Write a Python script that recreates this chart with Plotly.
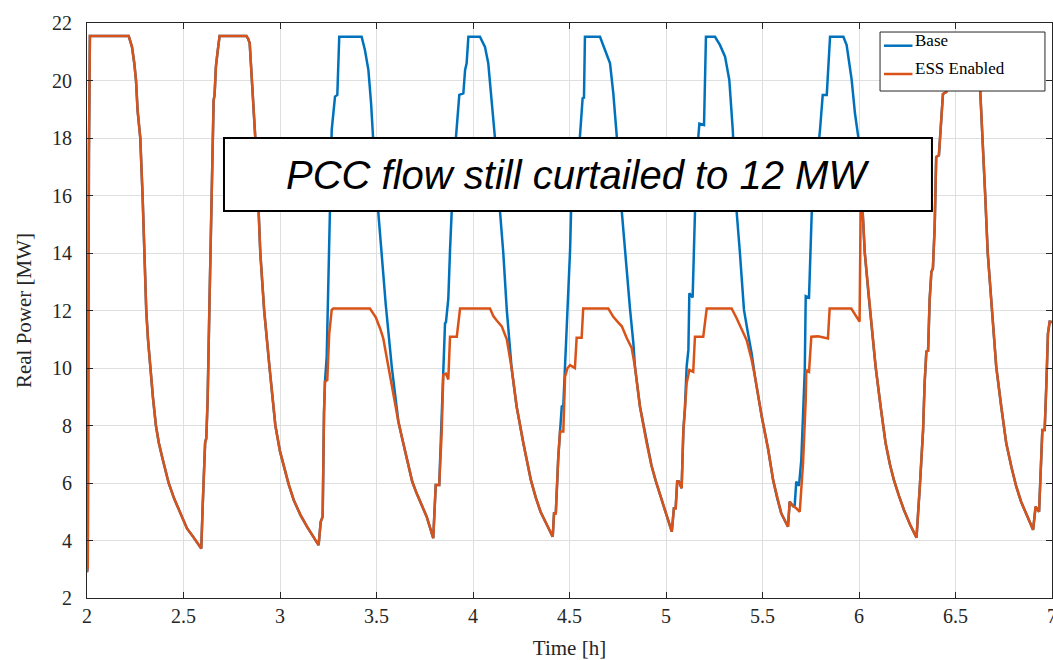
import plotly.graph_objects as go

# Real power at the PCC (MW) versus time (h), read as (time, power) pairs per cycle.
# "Base" = no storage, "ESS Enabled" = energy storage absorbing the excess above 12 MW.

ess_cycle_1_2 = [
    (2.000, 2.90), (2.004, 3.10), (2.010, 17.5), (2.015, 21.55), (2.216, 21.55),
    (2.224, 21.40), (2.233, 21.17), (2.245, 20.60), (2.254, 20.00), (2.262, 18.97),
    (2.276, 18.00), (2.288, 16.00), (2.297, 14.00), (2.307, 12.00), (2.316, 11.00),
    (2.328, 10.00), (2.342, 8.95), (2.357, 8.00), (2.372, 7.40), (2.389, 6.91),
    (2.406, 6.42), (2.423, 6.00), (2.452, 5.45), (2.484, 4.96), (2.518, 4.42),
    (2.553, 4.10), (2.592, 3.72),
    (2.600, 5.30), (2.612, 7.40), (2.618, 7.55), (2.625, 8.90), (2.635, 12.40),
    (2.642, 15.15), (2.650, 17.50), (2.656, 19.30), (2.661, 19.50), (2.668, 20.48),
    (2.676, 20.96), (2.687, 21.55), (2.826, 21.55), (2.835, 21.45), (2.843, 21.30),
    (2.855, 20.00), (2.872, 18.00), (2.886, 16.00), (2.898, 14.00), (2.918, 12.00),
    (2.931, 11.00), (2.946, 10.00), (2.961, 9.00), (2.976, 8.00), (3.000, 7.10),
    (3.019, 6.57), (3.045, 5.95), (3.071, 5.41), (3.105, 4.90), (3.140, 4.48),
    (3.170, 4.15), (3.200, 3.84),
]

ess_cycle_3_4 = [
    (3.211, 4.65), (3.221, 4.83), (3.228, 8.43), (3.233, 9.52), (3.245, 9.58),
    (3.255, 11.20), (3.268, 12.02), (3.276, 12.07), (3.466, 12.07), (3.497, 11.75),
    (3.520, 11.35), (3.535, 11.03), (3.548, 10.55), (3.561, 10.05), (3.579, 9.40),
    (3.596, 8.78), (3.613, 8.15), (3.631, 7.61), (3.665, 6.57), (3.685, 6.05),
    (3.708, 5.64), (3.733, 5.22), (3.760, 4.83), (3.794, 4.08),
    (3.807, 5.93), (3.825, 5.93), (3.838, 7.79), (3.846, 9.76), (3.860, 9.80),
    (3.872, 9.60), (3.881, 11.09), (3.916, 11.09), (3.933, 12.07), (4.088, 12.07),
    (4.106, 11.80), (4.123, 11.65), (4.149, 11.45), (4.175, 11.00), (4.200, 10.00),
    (4.226, 8.66), (4.261, 7.38), (4.300, 6.10), (4.325, 5.50), (4.350, 5.00),
    (4.385, 4.50), (4.413, 4.13),
]

ess_cycle_5_6 = [
    (4.420, 4.95), (4.429, 4.95), (4.442, 6.92), (4.451, 7.79), (4.468, 7.79),
    (4.477, 9.70), (4.489, 9.99), (4.503, 10.10), (4.528, 10.00), (4.537, 11.05),
    (4.563, 11.05), (4.571, 12.07), (4.701, 12.07), (4.727, 11.78), (4.753, 11.58),
    (4.771, 11.45), (4.796, 11.05), (4.822, 10.70), (4.839, 10.05), (4.865, 8.66),
    (4.900, 7.38), (4.925, 6.60), (4.950, 6.00), (4.975, 5.48), (5.000, 5.00),
    (5.030, 4.31),
    (5.041, 5.12), (5.050, 5.12), (5.058, 6.05), (5.067, 6.05), (5.081, 5.82),
    (5.090, 7.84), (5.098, 8.54), (5.107, 9.47), (5.121, 9.93), (5.141, 9.87),
    (5.150, 11.09), (5.193, 11.09), (5.211, 12.07), (5.340, 12.07), (5.366, 11.73),
    (5.392, 11.32), (5.418, 10.97), (5.444, 10.28), (5.461, 9.70), (5.496, 8.31),
    (5.530, 7.15), (5.555, 6.10), (5.575, 5.50), (5.597, 4.95), (5.632, 4.48),
]

ess_cycle_7_9 = [
    (5.641, 5.35), (5.658, 5.20), (5.675, 5.12), (5.693, 5.00), (5.710, 6.68),
    (5.724, 8.89), (5.727, 9.93), (5.741, 9.87), (5.753, 11.09), (5.788, 11.10),
    (5.839, 11.03), (5.848, 12.07), (5.960, 12.07), (6.003, 11.61), (6.010, 16.60),
    (6.030, 14.00), (6.052, 12.37), (6.069, 11.10), (6.086, 10.05), (6.112, 8.66),
    (6.138, 7.38), (6.160, 6.65), (6.181, 6.10), (6.207, 5.55), (6.233, 5.06),
    (6.265, 4.55), (6.298, 4.10),
    (6.315, 5.87), (6.332, 7.84), (6.340, 9.47), (6.349, 10.57), (6.358, 10.60),
    (6.366, 12.37), (6.375, 13.34), (6.383, 13.47), (6.392, 14.89), (6.400, 17.34),
    (6.414, 17.40), (6.426, 18.63), (6.435, 19.53), (6.452, 19.60), (6.465, 21.00),
    (6.475, 21.55), (6.592, 21.55), (6.600, 21.40), (6.610, 21.00), (6.628, 19.66),
    (6.641, 18.00), (6.654, 16.00), (6.667, 14.00), (6.686, 12.37), (6.698, 11.10),
    (6.711, 10.05), (6.737, 8.66), (6.763, 7.38), (6.790, 6.55), (6.815, 5.87),
    (6.840, 5.35), (6.867, 4.95), (6.902, 4.37),
    (6.915, 5.18), (6.933, 5.00), (6.950, 7.84), (6.962, 7.84), (6.971, 9.47),
    (6.979, 11.20), (6.988, 11.61), (7.000, 11.60),
]

# Base case: identical to the ESS case except where the PCC flow exceeds 12 MW.
base_cycle_3_4 = [
    (3.211, 4.65), (3.221, 4.83), (3.228, 8.43), (3.233, 9.52), (3.242, 10.39),
    (3.250, 12.60), (3.255, 15.00), (3.268, 18.28), (3.285, 19.44), (3.297, 19.50),
    (3.307, 21.52), (3.423, 21.52), (3.440, 21.06), (3.458, 20.37), (3.472, 19.20),
    (3.483, 17.93), (3.509, 15.44), (3.527, 14.00), (3.548, 12.20), (3.579, 10.05),
    (3.596, 9.00), (3.613, 8.15), (3.631, 7.61), (3.665, 6.57), (3.685, 6.05),
    (3.708, 5.64), (3.733, 5.22), (3.760, 4.83), (3.794, 4.08),
    (3.807, 5.93), (3.825, 5.93), (3.836, 7.79), (3.840, 8.66), (3.850, 10.05),
    (3.855, 11.55), (3.860, 11.60), (3.872, 12.40), (3.881, 14.10), (3.890, 15.50),
    (3.912, 18.05), (3.929, 19.50), (3.950, 19.55), (3.959, 20.37), (3.967, 20.60),
    (3.976, 21.52), (4.036, 21.52), (4.062, 21.17), (4.079, 20.60), (4.097, 19.20),
    (4.114, 17.99), (4.140, 15.44), (4.157, 14.00), (4.175, 12.02), (4.200, 10.00),
    (4.226, 8.66), (4.261, 7.38), (4.300, 6.10), (4.325, 5.50), (4.350, 5.00),
    (4.385, 4.50), (4.413, 4.13),
]

base_cycle_5_6 = [
    (4.420, 4.95), (4.429, 4.95), (4.442, 6.92), (4.451, 7.79), (4.460, 8.66),
    (4.468, 8.70), (4.477, 10.05), (4.486, 11.44), (4.494, 12.60), (4.503, 14.10),
    (4.508, 15.40), (4.554, 18.05), (4.568, 19.38), (4.575, 19.40), (4.580, 21.52),
    (4.658, 21.52), (4.684, 21.06), (4.710, 20.60), (4.727, 19.55), (4.745, 18.05),
    (4.771, 15.44), (4.788, 14.00), (4.814, 12.02), (4.831, 10.86), (4.839, 10.05),
    (4.865, 8.66), (4.900, 7.38), (4.925, 6.60), (4.950, 6.00), (4.975, 5.48),
    (5.000, 5.00), (5.030, 4.31),
    (5.041, 5.12), (5.050, 5.12), (5.058, 6.05), (5.067, 6.05), (5.081, 5.82),
    (5.090, 7.84), (5.098, 8.60), (5.107, 10.05), (5.116, 10.63), (5.121, 12.60),
    (5.138, 12.45), (5.150, 15.38), (5.167, 18.00), (5.173, 18.50), (5.197, 18.45),
    (5.207, 21.52), (5.254, 21.52), (5.280, 21.23), (5.306, 20.83), (5.328, 20.02),
    (5.346, 18.28), (5.366, 15.44), (5.383, 14.00), (5.404, 12.02), (5.425, 11.20),
    (5.444, 10.50), (5.461, 9.70), (5.496, 8.31), (5.530, 7.15), (5.555, 6.10),
    (5.575, 5.50), (5.597, 4.95), (5.632, 4.48),
]

base_cycle_7_9 = [
    (5.641, 5.35), (5.658, 5.20), (5.667, 5.23), (5.675, 6.05), (5.689, 5.90),
    (5.701, 6.80), (5.706, 7.61), (5.719, 9.93), (5.724, 12.50), (5.741, 12.45),
    (5.755, 15.38), (5.798, 18.28), (5.812, 19.50), (5.833, 19.50), (5.850, 21.52),
    (5.919, 21.52), (5.936, 21.23), (5.962, 20.02), (5.979, 18.86), (5.996, 18.05),
    (6.010, 16.60),
    (6.030, 14.00), (6.052, 12.37), (6.069, 11.10), (6.086, 10.05), (6.112, 8.66),
    (6.138, 7.38), (6.160, 6.65), (6.181, 6.10), (6.207, 5.55), (6.233, 5.06),
    (6.265, 4.55), (6.298, 4.10),
    (6.315, 5.87), (6.332, 7.84), (6.340, 9.47), (6.349, 10.57), (6.358, 10.60),
    (6.366, 12.37), (6.375, 13.34), (6.383, 13.47), (6.392, 14.89), (6.400, 17.34),
    (6.414, 17.40), (6.426, 18.63), (6.435, 19.53), (6.452, 19.60), (6.465, 21.00),
    (6.475, 21.55), (6.592, 21.55), (6.600, 21.40), (6.610, 21.00), (6.628, 19.66),
    (6.641, 18.00), (6.654, 16.00), (6.667, 14.00), (6.686, 12.37), (6.698, 11.10),
    (6.711, 10.05), (6.737, 8.66), (6.763, 7.38), (6.790, 6.55), (6.815, 5.87),
    (6.840, 5.35), (6.867, 4.95), (6.902, 4.37),
    (6.915, 5.18), (6.933, 5.00), (6.950, 7.84), (6.962, 7.84), (6.971, 9.47),
    (6.979, 11.20), (6.988, 11.61), (7.000, 11.60),
]

x_ticks = [2, 2.5, 3, 3.5, 4, 4.5, 5, 5.5, 6, 6.5, 7]
x_tick_text = ["2", "2.5", "3", "3.5", "4", "4.5", "5", "5.5", "6", "6.5", "7"]
y_ticks = [2, 4, 6, 8, 10, 12, 14, 16, 18, 20, 22]

series_names = ["Base", "ESS Enabled"]
note_text = "PCC flow still curtailed to 12 MW"
note_box = dict(x0=2.7098, x1=6.378, y0=15.46, y1=18.0)

BLUE = "#0072BD"
ORANGE = "#D95319"
AXIS = "#262626"
GRID = "#dfdfdf"
SERIF = "Liberation Serif"

ess_points = ess_cycle_1_2 + ess_cycle_3_4 + ess_cycle_5_6 + ess_cycle_7_9
base_points = ess_cycle_1_2 + base_cycle_3_4 + base_cycle_5_6 + base_cycle_7_9

fig = go.Figure()
for name, pts, color in [(series_names[0], base_points, BLUE),
                         (series_names[1], ess_points, ORANGE)]:
    fig.add_trace(go.Scatter(
        x=[p[0] for p in pts], y=[p[1] for p in pts],
        mode="lines", name=name, showlegend=False,
        line=dict(color=color, width=2.5),
    ))

# Text callout box
fig.add_shape(type="rect", xref="x", yref="y", layer="above",
              fillcolor="white", line=dict(color="black", width=2), **note_box)
fig.add_annotation(
    x=(note_box["x0"] + note_box["x1"]) / 2, y=(note_box["y0"] + note_box["y1"]) / 2,
    xref="x", yref="y", text="<i>" + note_text + "</i>", showarrow=False,
    font=dict(family="Liberation Sans", size=40, color="black"),
)

# Legend box (paper coordinates), MATLAB style: short line sample followed by label
legend_box = dict(x0=0.8218, x1=0.9927, y0=0.8817, y1=0.9843)
legend_rows_y = [0.9605, 0.9113]
legend_text_y = [0.9692, 0.9212]
fig.add_shape(type="rect", xref="paper", yref="paper", layer="above",
              fillcolor="white", line=dict(color=AXIS, width=1), **legend_box)
for name, color, ly, ty in zip(series_names, [BLUE, ORANGE], legend_rows_y, legend_text_y):
    fig.add_shape(type="line", xref="paper", yref="paper", layer="above",
                  x0=0.8259, x1=0.8554, y0=ly, y1=ly,
                  line=dict(color=color, width=2.5))
    fig.add_annotation(x=0.8564, y=ty, xref="paper", yref="paper",
                       xanchor="left", yanchor="middle", showarrow=False,
                       text=name, font=dict(family=SERIF, size=17, color="black"))

axis_common = dict(
    showline=True, linecolor=AXIS, linewidth=1, mirror="ticks",
    ticks="inside", ticklen=6, tickcolor=AXIS, tickwidth=1,
    showgrid=True, gridcolor=GRID, gridwidth=1, zeroline=False,
    automargin=False,
    tickfont=dict(family=SERIF, size=20, color=AXIS),
)

fig.update_xaxes(
    range=[2, 7], tickvals=x_ticks, ticktext=x_tick_text, ticklabelstandoff=0,
    ticklabeloverflow="allow",
    title=dict(text="Time [h]", standoff=16,
               font=dict(family=SERIF, size=21, color=AXIS)),
    **axis_common,
)
fig.update_yaxes(
    range=[2, 22], tickvals=y_ticks, ticklabelstandoff=10,
    title=dict(text="Real Power [MW]", standoff=14,
               font=dict(family=SERIF, size=21, color=AXIS)),
    **axis_common,
)

fig.update_layout(
    width=1053, height=660,
    margin=dict(l=87, r=1, t=23, b=62),
    paper_bgcolor="white", plot_bgcolor="white",
    showlegend=False,
)

fig.write_html("out.html")
